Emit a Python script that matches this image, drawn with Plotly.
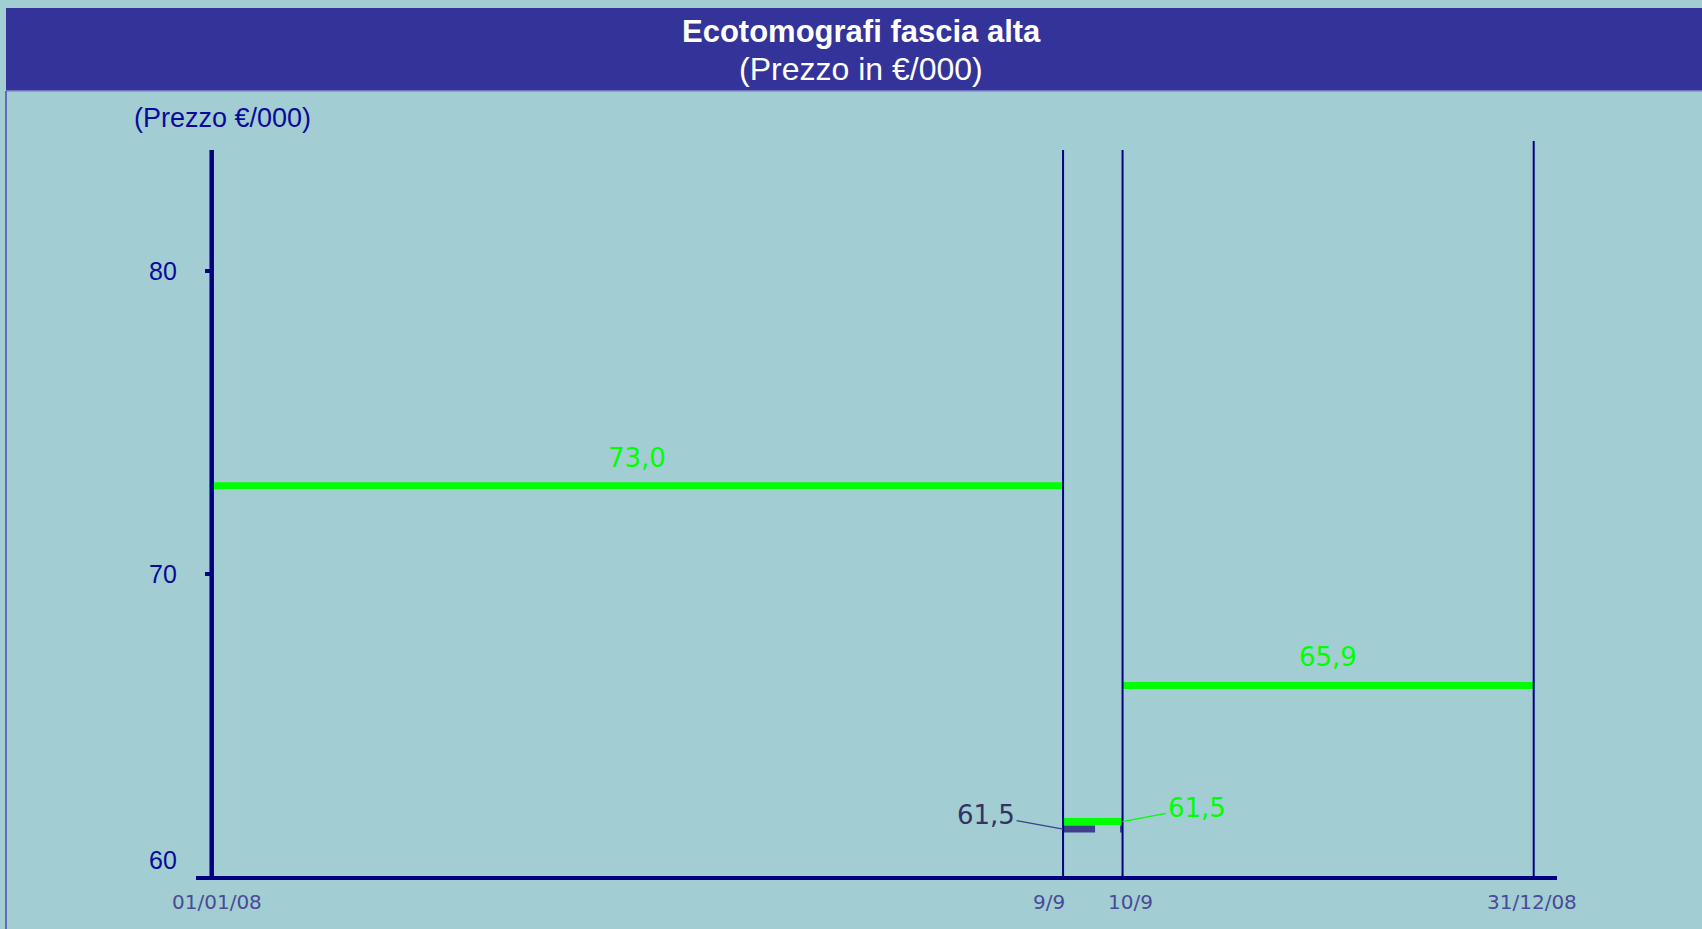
import plotly.graph_objects as go

# ---------------- data ----------------
boundary_labels = ["01/01/08", "9/9", "10/9", "31/12/08"]
boundary_pos = [0, 64.4, 68.9, 100]          # schematic position of each date on the time axis
divider_top = [84.0, 84.0, 84.3]             # top of the vertical dividers (9/9, 10/9, 31/12)
axis_top = 84.0

period_level = [72.9, 61.8, 66.3]            # plotted level of each price period (green bars)
period_label = ["73,0", "61,5", "65,9"]
prev_level = 61.55                           # previous price shown between 9/9 and 10/9
prev_label = "61,5"

y_ticks = [80, 70, 60]
y_tick_text = ["80", "70", "60"]

# ---------------- style ----------------
BG = "#a2cdd3"
BAND = "#333399"
NAVY = "#000080"
GREEN = "#00ff00"
DARK = "#3f3f8c"
DARK_TXT = "#333366"
YLAB = "#0a0a9a"
XLAB = "#4a4a96"

W, H = 1702, 929
ML, MR, MT, MB = 196, 145, 140, 53
PX_X = 13.22      # px per x unit
PX_Y = 30.25      # px per y unit
x0_px = 211.7
plot_w = W - ML - MR
plot_h = H - MT - MB
x_lo = -(x0_px - ML) / PX_X
x_hi = x_lo + plot_w / PX_X
y_lo = 60
y_hi = y_lo + plot_h / PX_Y


def px_to_paper_x(px):
    return (px - ML) / plot_w


def px_to_paper_y(py):
    return (H - MB - py) / plot_h


fig = go.Figure()

# green price periods
for i, lvl in enumerate(period_level):
    fig.add_trace(go.Scatter(
        x=[boundary_pos[i], boundary_pos[i + 1]], y=[lvl, lvl], mode="lines",
        line=dict(color=GREEN, width=7), hoverinfo="skip", showlegend=False))

# previous price (dark)
fig.add_trace(go.Scatter(
    x=[boundary_pos[1], boundary_pos[2]], y=[prev_level, prev_level], mode="lines",
    line=dict(color=DARK, width=7, dash="32px,25px"), hoverinfo="skip", showlegend=False))

# y axis line
fig.add_trace(go.Scatter(
    x=[boundary_pos[0], boundary_pos[0]], y=[y_lo, axis_top], mode="lines",
    line=dict(color=NAVY, width=4.5), hoverinfo="skip", showlegend=False))

# vertical dividers
for pos, top in zip(boundary_pos[1:], divider_top):
    fig.add_trace(go.Scatter(
        x=[pos, pos], y=[y_lo, top], mode="lines",
        line=dict(color=NAVY, width=2), hoverinfo="skip", showlegend=False))

annotations = []

# period labels
lab_font = dict(family="DejaVu Sans", size=26, color=GREEN)
for i in (0, 2):
    annotations.append(dict(
        x=(boundary_pos[i] + boundary_pos[i + 1]) / 2, y=period_level[i],
        text=period_label[i], showarrow=False, yshift=28,
        xanchor="center", yanchor="middle", font=lab_font))

# 61,5 labels with leader lines
annotations.append(dict(
    x=boundary_pos[2], y=period_level[1], text=period_label[1],
    showarrow=True, arrowhead=0, arrowwidth=1.2, arrowcolor=GREEN,
    ax=74, ay=-14, font=lab_font))
annotations.append(dict(
    x=boundary_pos[1], y=prev_level, text=prev_label,
    showarrow=True, arrowhead=0, arrowwidth=1.2, arrowcolor=DARK,
    ax=-77, ay=-14, font=dict(family="DejaVu Sans", size=26, color=DARK_TXT)))

# y tick labels
y_label_shift = [0, 0, 16]
for v, t, s in zip(y_ticks, y_tick_text, y_label_shift):
    annotations.append(dict(
        x=boundary_pos[0], y=v, text=t, showarrow=False, xanchor="right", yanchor="middle",
        xshift=-33, yshift=s, font=dict(family="Liberation Sans", size=25, color=YLAB)))

# x (date) labels
x_label_shift = [5, -14, 8, -2]
for p, t, s in zip(boundary_pos, boundary_labels, x_label_shift):
    annotations.append(dict(
        x=p, y=0, yref="paper", text=t, showarrow=False, yshift=-26, xshift=s,
        xanchor="center", yanchor="middle",
        font=dict(family="DejaVu Sans", size=20, color=XLAB)))

# titles
annotations.append(dict(
    x=px_to_paper_x(861), y=px_to_paper_y(32), xref="paper", yref="paper",
    text="<b>Ecotomografi fascia alta</b>", showarrow=False,
    xanchor="center", yanchor="middle",
    font=dict(family="Liberation Sans", size=31, color="white")))
annotations.append(dict(
    x=px_to_paper_x(861), y=px_to_paper_y(69), xref="paper", yref="paper",
    text="(Prezzo in €/000)", showarrow=False,
    xanchor="center", yanchor="middle",
    font=dict(family="Liberation Sans", size=32, color="white")))
annotations.append(dict(
    x=px_to_paper_x(222.5), y=px_to_paper_y(118), xref="paper", yref="paper",
    text="(Prezzo €/000)", showarrow=False,
    xanchor="center", yanchor="middle",
    font=dict(family="Liberation Sans", size=27, color=YLAB)))

shapes = [
    dict(type="rect", xref="paper", yref="paper", layer="below",
         x0=px_to_paper_x(6), x1=px_to_paper_x(W + 5),
         y0=px_to_paper_y(91), y1=px_to_paper_y(8),
         fillcolor=BAND, line=dict(width=0)),
    dict(type="line", xref="paper", yref="paper",
         x0=px_to_paper_x(6), x1=px_to_paper_x(W + 5),
         y0=px_to_paper_y(91), y1=px_to_paper_y(91),
         line=dict(color="#8a8ad0", width=1.5)),
    dict(type="line", xref="paper", yref="paper",
         x0=px_to_paper_x(6), x1=px_to_paper_x(6),
         y0=px_to_paper_y(91), y1=px_to_paper_y(H + 5),
         line=dict(color="#4b4bb0", width=1.5)),
]

fig.update_layout(
    width=W, height=H,
    margin=dict(l=ML, r=MR, t=MT, b=MB, pad=0),
    paper_bgcolor=BG, plot_bgcolor=BG,
    showlegend=False,
    annotations=annotations,
    shapes=shapes,
    xaxis=dict(range=[x_lo, x_hi], showgrid=False, zeroline=False,
               showticklabels=False, ticks="", showline=True,
               linecolor=NAVY, linewidth=4, fixedrange=True),
    yaxis=dict(range=[y_lo, y_hi], showgrid=False, zeroline=False,
               showticklabels=False, showline=False,
               anchor="free", position=(x0_px - ML) / plot_w,
               tickvals=y_ticks[:2], ticks="outside", ticklen=7, tickwidth=4,
               tickcolor=NAVY, fixedrange=True),
)

fig.write_html("out.html",
               config={"displayModeBar": False},
               post_script="document.body.style.margin='0px';document.body.style.overflow='hidden';")
